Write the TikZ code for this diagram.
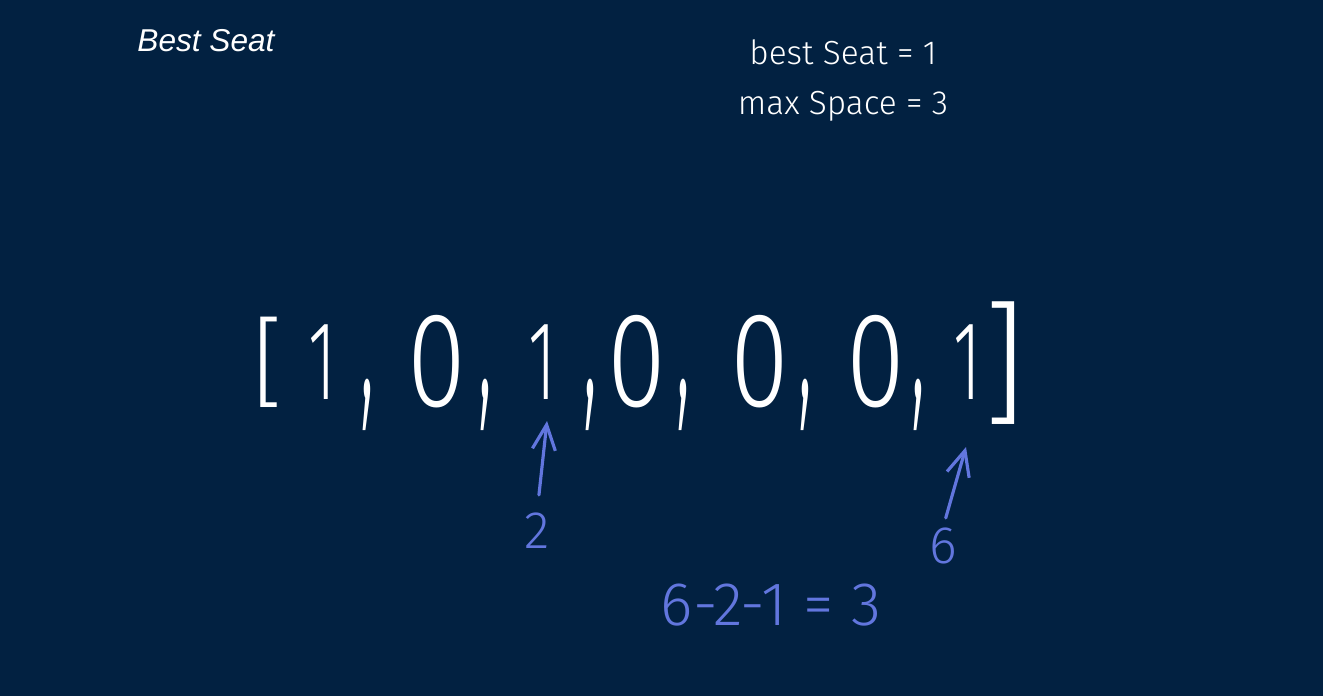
\documentclass[tikz,border=0pt]{standalone}
\usepackage{fontspec}
\setmainfont{Liberation Sans}
\newfontfamily\handfont{Fira Sans Light}
\usetikzlibrary{arrows.meta}
\definecolor{xNavy}{RGB}{2,33,65}
\definecolor{xInk}{RGB}{98,118,222}
\newcommand{\slimzero}{\scalebox{0.95}[1.2]{0}}
\newcommand{\slimone}{\scalebox{0.6}[1]{1}}
\newcommand{\longcomma}{\scalebox{0.8}[2.6]{,}}
\tikzset{
  title/.style={text=white, inner sep=0pt, font=\itshape\fontsize{18}{20}\selectfont},
  memo/.style={text=white, inner sep=0pt, font=\handfont\fontsize{19}{21}\selectfont},
  cell/.style={text=white, inner sep=0pt, font=\handfont\fontsize{64}{64}\selectfont},
  sep/.style={text=white, inner sep=0pt, font=\handfont\fontsize{48}{48}\selectfont},
  note/.style={text=xInk, inner sep=0pt, font=\handfont\fontsize{30}{32}\selectfont},
  ptr/.style={-{Straight Barb[length=5mm, width=4.6mm]}, line width=1.8pt, line cap=round, xInk},
}
\begin{document}
\begin{tikzpicture}[x=0.02cm, y=-0.02cm]
    \fill[xNavy] (0,0) rectangle (1323,696);
    \useasboundingbox (0,0) rectangle (1323,696);
    \node[title] (head) at (206,41) {Best Seat};
    \node[memo]  (best) at (843,52)  {best Seat = 1};
    \node[memo]  (span) at (843,106) {max Space = 3};
    % the seat row
    \node[sep]  (open)  at (268,362) {\fontsize{56}{56}\selectfont[};
    \node[cell] (s0) at (322,362) {\slimone};
    \node[sep]  (c0) at (367,405) {\longcomma};
    \node[cell] (s1) at (437,362) {\slimzero};
    \node[sep]  (c1) at (485,405) {\longcomma};
    \node[cell] (s2) at (542,362) {\slimone};
    \node[sep]  (c2) at (590,405) {\longcomma};
    \node[cell] (s3) at (637,362) {\slimzero};
    \node[sep]  (c3) at (683,405) {\longcomma};
    \node[cell] (s4) at (760,362) {\slimzero};
    \node[sep]  (c4) at (805,405) {\longcomma};
    \node[cell] (s5) at (876,362) {\slimzero};
    \node[sep]  (c5) at (918,405) {\longcomma};
    \node[cell] (s6) at (967,362) {\slimone};
    \node[sep]  (close) at (1005,363) {\fontsize{76}{76}\selectfont]};
    % pointers
    \node[note] (left)  at (537,531) {2};
    \node[note] (right) at (943,546) {6};
    \coordinate (tipL) at (547,421);
    \coordinate (tipR) at (966,447);
    \draw[ptr, shorten <=0.36cm] (left.north) -- (tipL);
    \draw[ptr, shorten <=0.2cm] (right.north) -- (tipR);
    \node[note, font=\handfont\fontsize{35}{37}\selectfont] (gap) at (771,605) {6-2-1 = 3};
\end{tikzpicture}
\end{document}
